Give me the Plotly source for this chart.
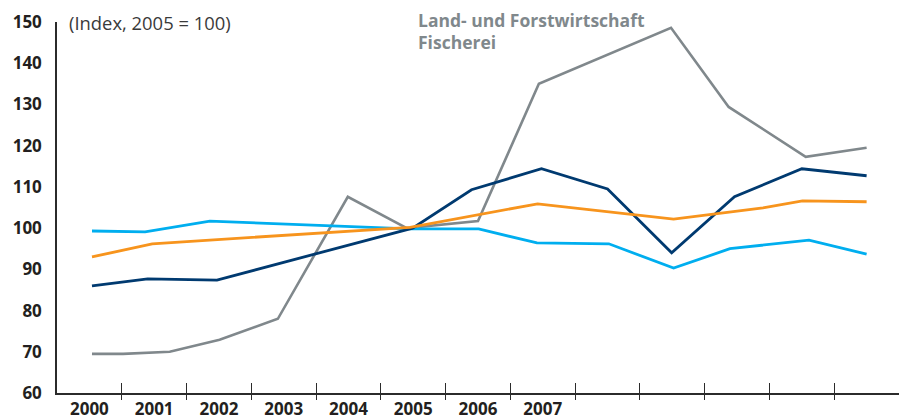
import plotly.graph_objects as go

# Decimal-year positions (year centre = year + 0.5) and index values
gray_x = [2000.54, 2001.02, 2001.74, 2002.51, 2003.41, 2004.49, 2005.40, 2006.50, 2007.44, 2009.48, 2010.37, 2011.56, 2012.50]
gray_y = [69.5, 69.5, 70.0, 72.9, 78.0, 107.6, 100.0, 101.7, 135.0, 148.6, 129.4, 117.3, 119.5]

navy_x = [2000.54, 2001.40, 2002.47, 2005.49, 2006.40, 2007.48, 2008.50, 2009.49, 2010.46, 2011.50, 2012.50]
navy_y = [86.0, 87.7, 87.4, 100.0, 109.3, 114.4, 109.5, 94.0, 107.6, 114.4, 112.7]

orange_x = [2000.54, 2001.47, 2005.45, 2006.50, 2007.42, 2009.52, 2010.90, 2011.51, 2012.50]
orange_y = [93.0, 96.2, 100.2, 103.2, 105.9, 102.2, 104.9, 106.6, 106.4]

lblue_x = [2000.54, 2001.36, 2002.36, 2005.45, 2006.51, 2007.41, 2008.52, 2009.52, 2010.39, 2011.61, 2012.50]
lblue_y = [99.3, 99.1, 101.7, 99.8, 99.8, 96.4, 96.2, 90.3, 95.0, 97.1, 93.7]

year_labels = ["2000", "2001", "2002", "2003", "2004", "2005", "2006", "2007"]
label_pos = [int(y) + 0.5 for y in year_labels]
tick_pos = list(range(2001, 2013))
y_ticks = [60, 70, 80, 90, 100, 110, 120, 130, 140, 150]

X_RANGE = [2000, 2013]
Y_RANGE = [60, 150]

fig = go.Figure()
fig.add_trace(go.Scatter(x=gray_x, y=gray_y, mode="lines",
                         line=dict(color="#80888c", width=2.6), name="Land- und Forstwirtschaft, Fischerei"))
fig.add_trace(go.Scatter(x=lblue_x, y=lblue_y, mode="lines",
                         line=dict(color="#00aeef", width=2.8), name="light"))
fig.add_trace(go.Scatter(x=navy_x, y=navy_y, mode="lines",
                         line=dict(color="#003a70", width=2.8), name="navy"))
fig.add_trace(go.Scatter(x=orange_x, y=orange_y, mode="lines",
                         line=dict(color="#f7941d", width=2.8), name="orange"))
# helper traces so the tick-mark axes get drawn
fig.add_trace(go.Scatter(x=[None], y=[None], xaxis="x2", showlegend=False, hoverinfo="skip"))
fig.add_trace(go.Scatter(x=[None], y=[None], xaxis="x3", showlegend=False, hoverinfo="skip"))

axis_col = "#2b2b2b"
lab_font = dict(family="Open Sans", size=17, color="#231f20", weight="bold")

fig.update_layout(
    width=906, height=418,
    margin=dict(l=57, r=7, t=22, b=25),
    paper_bgcolor="white", plot_bgcolor="white",
    showlegend=False,
    xaxis=dict(range=X_RANGE, showgrid=False, zeroline=False, automargin=False,
               showline=True, linecolor=axis_col, linewidth=1.5,
               tickmode="array", tickvals=label_pos, ticktext=year_labels,
               ticks="outside", ticklen=0, tickcolor="rgba(0,0,0,0)",
               tickfont=lab_font),
    xaxis2=dict(range=X_RANGE, overlaying="x", anchor="y", side="bottom", automargin=False,
                showgrid=False, zeroline=False, showline=False,
                tickmode="array", tickvals=tick_pos, showticklabels=False,
                ticks="outside", ticklen=6, tickwidth=1.2, tickcolor=axis_col),
    xaxis3=dict(range=X_RANGE, overlaying="x", anchor="y", side="bottom", automargin=False,
                showgrid=False, zeroline=False, showline=False,
                tickmode="array", tickvals=tick_pos, showticklabels=False,
                ticks="inside", ticklen=10, tickwidth=1.2, tickcolor=axis_col),
    yaxis=dict(range=Y_RANGE, showgrid=False, zeroline=False, automargin=False,
               showline=True, linecolor=axis_col, linewidth=1.5,
               tickmode="array", tickvals=y_ticks,
               ticks="outside", ticklen=10, tickcolor="rgba(0,0,0,0)",
               tickfont=lab_font),
)

fig.add_annotation(text="(Index, 2005 = 100)", xref="paper", yref="paper",
                   x=(67 - 57) / 843, y=1.0, xanchor="left", yanchor="middle",
                   showarrow=False,
                   font=dict(family="Open Sans", size=18.4, color="#3a3a3a"))
fig.add_annotation(text="Land- und Forstwirtschaft", xref="paper", yref="paper",
                   x=(416 - 57) / 843, y=1 + 2 / 371, xanchor="left", yanchor="middle",
                   showarrow=False,
                   font=dict(family="Open Sans", size=17.5, color="#80888c", weight="bold"))
fig.add_annotation(text="Fischerei", xref="paper", yref="paper",
                   x=(416 - 57) / 843, y=1 - 20 / 371, xanchor="left", yanchor="middle",
                   showarrow=False,
                   font=dict(family="Open Sans", size=17.5, color="#80888c", weight="bold"))

fig.write_html("out.html",
               config={"displayModeBar": False},
               post_script="document.body.style.margin='0px';document.body.style.overflow='hidden';")
